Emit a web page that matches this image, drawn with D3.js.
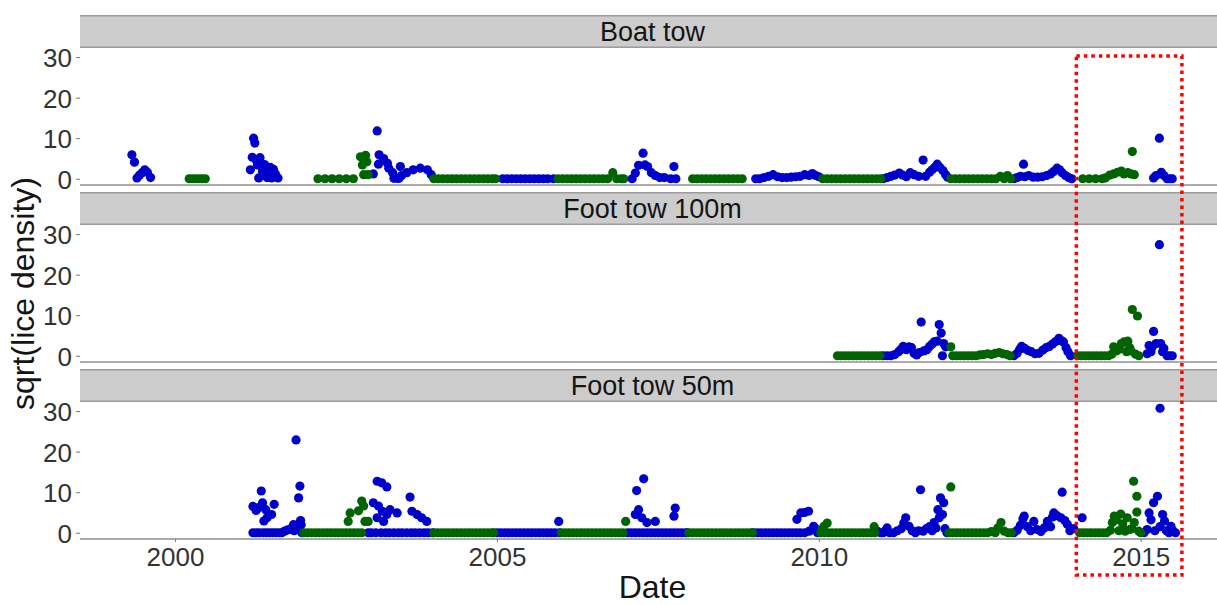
<!DOCTYPE html>
<html>
<head>
<meta charset="utf-8">
<script src="https://cdn.jsdelivr.net/npm/d3@7/dist/d3.min.js"></script>
<style>
  html, body { margin: 0; padding: 0; background: #ffffff; }
  svg { display: block; font-family: "Liberation Sans", Arial, sans-serif; }
</style>
</head>
<body>
<svg id="chart" width="1217" height="605"></svg>
<script>
// ---------------- DATA ----------------
const panelNames = ["Boat tow", "Foot tow 100m", "Foot tow 50m"];
const xTickValues = [2000, 2005, 2010, 2015];
const yTickValues = [0, 10, 20, 30];
const seriesColors = { blue: "#0000cd", green: "#006400" };

// [decimal year, sqrt(lice density)]
const boatBlue = [
  [1999.33,5.9],[1999.37,4.1],[1999.41,0.2],[1999.45,0.9],[1999.49,1.5],[1999.53,2.2],[1999.57,1.6],[1999.62,0.3],
  [2001.17,2.2],[2001.2,5.3],[2001.22,10.0],[2001.24,8.8],[2001.26,4.6],[2001.28,3.4],[2001.3,0.2],[2001.32,5.2],[2001.34,3.1],[2001.36,1.8],[2001.39,3.5],[2001.41,2.5],[2001.43,0.3],[2001.46,1.5],[2001.48,2.8],[2001.5,0.2],[2001.53,2.3],[2001.56,1.2],[2001.6,0.2],
  [2003.08,1.2],[2003.14,11.8],[2003.16,3.6],[2003.17,5.9],[2003.24,5.0],[2003.3,3.8],[2003.32,2.6],[2003.38,1.5],[2003.4,0.1],[2003.45,0.1],[2003.48,0.1],[2003.5,3.0],[2003.52,0.8],[2003.6,1.5],[2003.7,2.2],[2003.81,2.6],[2003.92,2.2],[2003.98,1.0],
  [2005.09,0],[2005.16,0],[2005.23,0],[2005.3,0],[2005.37,0],[2005.44,0],[2005.51,0],[2005.58,0],[2005.65,0],[2005.72,0],[2005.79,0],[2005.88,0],
  [2007.1,0],[2007.15,1.4],[2007.2,3.3],[2007.27,6.3],[2007.3,3.4],[2007.34,3.0],[2007.4,1.5],[2007.46,0.8],[2007.53,0.3],[2007.6,0.3],[2007.7,0],[2007.75,3.0],[2007.78,0],
  [2009.02,0],[2009.08,0],[2009.15,0.3],[2009.22,0.6],[2009.29,1.0],[2009.36,0.5],[2009.43,0.3],[2009.5,0.3],[2009.57,0.4],[2009.64,0.5],[2009.71,0.6],[2009.78,1.0],[2009.85,0.8],[2009.9,1.3],[2009.95,0.8],[2010.0,0.5],
  [2011.0,0],[2011.06,0.3],[2011.12,0.6],[2011.18,0.9],[2011.25,1.4],[2011.3,0.9],[2011.36,0.5],[2011.42,1.5],[2011.48,1.0],[2011.55,0.6],[2011.62,4.6],[2011.66,0.6],[2011.72,1.6],[2011.76,2.2],[2011.8,2.8],[2011.84,3.6],[2011.88,2.8],[2011.93,2.0],[2011.97,1.0],[2012.0,0.4],
  [2013.03,0],[2013.08,0.3],[2013.13,0.6],[2013.18,3.6],[2013.2,0.5],[2013.26,0.8],[2013.33,0.4],[2013.4,0.4],[2013.47,0.5],[2013.54,0.8],[2013.6,1.2],[2013.65,1.8],[2013.7,2.6],[2013.74,2.2],[2013.78,1.5],[2013.83,0.8],[2013.88,0.3],[2013.93,0],
  [2015.2,0.2],[2015.24,0.8],[2015.29,10.0],[2015.32,1.6],[2015.36,0.8],[2015.41,0],[2015.45,0],[2015.49,0]
];
const boatGreen = [
  [2000.22,0],[2000.27,0],[2000.32,0],[2000.37,0],[2000.42,0],[2000.47,0],
  [2002.22,0],[2002.33,0],[2002.44,0],[2002.55,0],[2002.66,0],[2002.77,0],
  [2002.88,5.4],[2002.91,3.4],[2002.93,1.0],[2002.96,5.8],[2002.98,4.2],[2003.0,1.0],
  [2004.02,0],[2004.09,0],[2004.16,0],[2004.23,0],[2004.3,0],[2004.37,0],[2004.44,0],[2004.51,0],[2004.58,0],[2004.65,0],[2004.72,0],[2004.79,0],[2004.86,0],[2004.93,0],[2004.98,0],
  [2005.95,0],[2006.02,0],[2006.09,0],[2006.16,0],[2006.23,0],[2006.3,0],[2006.37,0],[2006.44,0],[2006.51,0],[2006.58,0],[2006.65,0],[2006.72,0],[2006.8,1.5],[2006.86,0],[2006.93,0],[2006.97,0],
  [2008.04,0],[2008.11,0],[2008.18,0],[2008.25,0],[2008.32,0],[2008.39,0],[2008.46,0],[2008.53,0],[2008.6,0],[2008.67,0],[2008.74,0],[2008.81,0],
  [2010.06,0],[2010.13,0],[2010.2,0],[2010.27,0],[2010.34,0],[2010.41,0],[2010.48,0],[2010.55,0],[2010.62,0],[2010.69,0],[2010.76,0],[2010.83,0],[2010.9,0],[2010.96,0],
  [2012.05,0],[2012.12,0],[2012.19,0],[2012.26,0],[2012.33,0],[2012.4,0],[2012.47,0],[2012.54,0],[2012.61,0],[2012.68,0],[2012.75,0],[2012.82,0.6],[2012.88,0],[2012.93,0.8],[2012.98,0],
  [2014.1,0],[2014.2,0],[2014.3,0],[2014.4,0],[2014.45,0.2],[2014.52,0.9],[2014.58,1.2],[2014.64,1.6],[2014.7,1.9],[2014.74,1.2],[2014.8,1.5],[2014.85,1.2],[2014.87,6.7],[2014.9,1.0]
];

const foot100Blue = [
  [2011.0,0],[2011.06,0],[2011.12,0],[2011.18,0.3],[2011.24,1.0],[2011.27,1.5],[2011.31,2.3],[2011.36,1.5],[2011.4,2.2],[2011.44,2.0],[2011.48,0.6],[2011.52,0.2],[2011.56,0.8],[2011.59,8.3],[2011.63,1.2],[2011.68,1.5],[2011.72,2.3],[2011.76,2.9],[2011.8,3.5],[2011.84,3.6],[2011.87,7.7],[2011.9,5.6],[2011.92,0],[2011.94,3.0],[2011.97,2.2],
  [2013.03,0],[2013.08,0.6],[2013.12,1.6],[2013.15,2.3],[2013.2,1.8],[2013.25,1.3],[2013.3,1.0],[2013.36,0.5],[2013.42,0.6],[2013.48,1.4],[2013.53,2.0],[2013.58,2.3],[2013.63,2.9],[2013.68,3.5],[2013.73,4.3],[2013.77,3.7],[2013.8,3.4],[2013.84,2.0],[2013.87,1.0],[2013.91,0],
  [2015.1,0.5],[2015.13,2.5],[2015.16,1.0],[2015.18,2.2],[2015.2,6.0],[2015.24,3.0],[2015.29,27.4],[2015.31,3.0],[2015.34,1.0],[2015.36,1.8],[2015.41,0],[2015.45,0],[2015.49,0]
];
const foot100Green = [
  [2010.29,0],[2010.35,0],[2010.41,0],[2010.47,0],[2010.53,0],[2010.59,0],[2010.65,0],[2010.71,0],[2010.77,0],[2010.83,0],[2010.89,0],[2010.95,0],
  [2012.05,2.2],[2012.08,0],[2012.14,0],[2012.2,0],[2012.26,0],[2012.32,0],[2012.38,0],[2012.44,0],[2012.5,0.2],[2012.56,0.3],[2012.62,0.5],[2012.68,0.3],[2012.74,0.6],[2012.8,0.8],[2012.86,0.5],[2012.92,0.3],[2012.97,0],
  [2014.02,0],[2014.08,0],[2014.14,0],[2014.2,0],[2014.26,0],[2014.32,0],[2014.38,0],[2014.44,0],[2014.5,0],[2014.55,0.4],[2014.58,2.2],[2014.62,1.2],[2014.67,1.6],[2014.7,3.0],[2014.74,3.4],[2014.78,1.0],[2014.8,3.6],[2014.83,2.0],[2014.85,1.2],[2014.87,11.4],[2014.92,0.4],[2014.95,9.8],[2014.97,0]
];

const foot50Blue = [
  [2001.21,6.5],[2001.21,0],[2001.26,5.5],[2001.26,0],[2001.3,6.2],[2001.31,0],[2001.34,10.3],[2001.36,7.4],[2001.37,0],[2001.38,2.9],[2001.41,5.7],[2001.42,0],[2001.43,3.7],[2001.47,0],[2001.5,4.5],[2001.52,0],[2001.54,7.0],[2001.57,0],[2001.62,0],[2001.66,0],[2001.7,0.4],[2001.75,0.7],[2001.8,1.0],[2001.84,2.0],[2001.85,0.5],[2001.88,22.9],[2001.9,1.5],[2001.92,8.6],[2001.94,11.5],[2001.95,3.0],[2001.96,2.0],[2001.97,0],
  [2003.0,0],[2003.05,0],[2003.08,7.4],[2003.12,0],[2003.14,12.7],[2003.14,3.7],[2003.16,6.6],[2003.2,0],[2003.21,12.3],[2003.22,5.3],[2003.24,2.8],[2003.27,0],[2003.29,11.3],[2003.29,4.5],[2003.33,0],[2003.34,5.7],[2003.4,0],[2003.45,4.9],[2003.47,0],[2003.53,0],[2003.6,0],[2003.65,8.8],[2003.67,0],[2003.68,5.3],[2003.73,0],[2003.76,4.5],[2003.8,0],[2003.83,3.7],[2003.87,0],[2003.91,2.8],[2003.93,0],[2004.0,0],
  [2005.0,0],[2005.06,0],[2005.12,0],[2005.18,0],[2005.24,0],[2005.3,0],[2005.36,0],[2005.42,0],[2005.48,0],[2005.54,0],[2005.6,0],[2005.66,0],[2005.72,0],[2005.78,0],[2005.84,0],[2005.9,0],[2005.96,2.8],[2005.97,0],
  [2007.03,0],[2007.09,0],[2007.15,4.5],[2007.15,0],[2007.17,10.4],[2007.2,5.7],[2007.21,0],[2007.25,3.7],[2007.27,0],[2007.28,13.3],[2007.33,2.5],[2007.33,0],[2007.39,0],[2007.45,0],[2007.46,2.8],[2007.51,0],[2007.57,0],[2007.63,0],[2007.69,0],[2007.75,4.1],[2007.75,0],[2007.77,6.1],[2007.81,0],[2007.87,0],[2007.93,0],[2007.96,0],
  [2008.99,0],[2009.05,0],[2009.11,0],[2009.17,0],[2009.23,0],[2009.29,0],[2009.35,0],[2009.41,0],[2009.47,0],[2009.53,0],[2009.59,0],[2009.65,0],[2009.66,3.3],[2009.71,0],[2009.72,4.9],[2009.78,5.0],[2009.78,0],[2009.84,5.3],[2009.85,0.4],[2009.92,1.6],[2009.95,1.0],[2009.98,0],
  [2010.9,0.5],[2010.96,0],[2011.0,0],[2011.04,0.6],[2011.06,1.2],[2011.1,0],[2011.16,0],[2011.22,0.5],[2011.28,1.0],[2011.32,2.4],[2011.35,3.7],[2011.4,1.6],[2011.45,0.5],[2011.5,0],[2011.55,0.5],[2011.58,10.6],[2011.62,0.4],[2011.67,1.0],[2011.72,1.5],[2011.76,0.5],[2011.79,2.5],[2011.82,1.2],[2011.85,5.7],[2011.87,3.7],[2011.89,8.6],[2011.92,4.5],[2011.94,7.4],[2011.96,1.0],[2011.99,0],
  [2013.03,0],[2013.08,0.6],[2013.13,1.8],[2013.17,3.4],[2013.19,4.1],[2013.24,1.5],[2013.29,0.5],[2013.34,2.8],[2013.39,0.8],[2013.45,0.3],[2013.5,1.2],[2013.55,2.8],[2013.6,1.5],[2013.63,3.9],[2013.65,4.9],[2013.7,4.2],[2013.76,3.7],[2013.78,10.0],[2013.82,3.0],[2013.86,2.1],[2013.9,0.5],[2013.96,1.0],[2014.09,3.7],
  [2015.05,0],[2015.1,0.8],[2015.13,4.9],[2015.16,3.2],[2015.2,7.4],[2015.22,0.5],[2015.26,9.0],[2015.3,30.7],[2015.3,1.5],[2015.34,4.5],[2015.37,2.9],[2015.4,0.5],[2015.44,0],[2015.47,1.6],[2015.5,0.5],[2015.54,0]
];
const foot50Green = [
  [2002.0,0],[2002.06,0],[2002.12,0],[2002.18,0],[2002.24,0],[2002.3,0],[2002.36,0],[2002.42,0],[2002.48,0],[2002.54,0],[2002.6,0],[2002.66,0],[2002.72,0],[2002.78,0],[2002.84,0],[2002.9,0],
  [2002.69,2.8],[2002.72,4.9],[2002.85,5.4],[2002.9,7.8],[2002.93,6.6],[2002.95,2.8],[2003.0,2.8],
  [2004.02,0],[2004.08,0],[2004.14,0],[2004.2,0],[2004.26,0],[2004.32,0],[2004.38,0],[2004.44,0],[2004.5,0],[2004.56,0],[2004.62,0],[2004.68,0],[2004.74,0],[2004.8,0],[2004.86,0],[2004.92,0],[2004.95,0],
  [2006.0,0],[2006.06,0],[2006.12,0],[2006.18,0],[2006.24,0],[2006.3,0],[2006.36,0],[2006.42,0],[2006.48,0],[2006.54,0],[2006.6,0],[2006.66,0],[2006.72,0],[2006.78,0],[2006.84,0],[2006.9,0],[2006.96,0],[2007.0,2.8],
  [2007.98,0],[2008.04,0],[2008.1,0],[2008.16,0],[2008.22,0],[2008.28,0],[2008.34,0],[2008.4,0],[2008.46,0],[2008.52,0],[2008.58,0],[2008.64,0],[2008.7,0],[2008.76,0],[2008.82,0],[2008.88,0],[2008.94,0],[2008.97,0],
  [2010.03,0],[2010.05,0.8],[2010.08,1.6],[2010.13,2.4],[2010.09,0],[2010.15,0],[2010.21,0],[2010.27,0],[2010.33,0],[2010.39,0],[2010.45,0],[2010.51,0],[2010.57,0],[2010.63,0],[2010.69,0],[2010.75,0],[2010.81,0],[2010.86,1.5],[2010.87,0],
  [2012.05,11.3],[2012.02,0],[2012.08,0],[2012.14,0],[2012.2,0],[2012.26,0],[2012.32,0],[2012.38,0],[2012.44,0],[2012.5,0],[2012.56,0],[2012.62,0],[2012.68,0.3],[2012.74,0],[2012.78,1.2],[2012.83,2.5],[2012.88,0.4],[2012.94,0],[2012.99,0],
  [2014.05,0],[2014.11,0],[2014.17,0],[2014.23,0],[2014.29,0],[2014.35,0],[2014.41,0],[2014.47,0],[2014.53,0.6],[2014.56,2.5],[2014.59,4.1],[2014.62,3.2],[2014.66,0.5],[2014.69,4.6],[2014.72,2.2],[2014.76,0.4],[2014.79,3.7],[2014.83,0.8],[2014.86,1.0],[2014.89,12.7],[2014.9,2.5],[2014.94,9.0],[2014.94,5.1],[2014.97,0.4],[2015.0,0]
];

const panelSeries = [
  { blue: boatBlue, green: boatGreen },
  { blue: foot100Blue, green: foot100Green },
  { blue: foot50Blue, green: foot50Green }
];

// Highlight box (in data years)
const highlightYears = [2014.0, 2015.64];

// ---------------- LAYOUT ----------------
const W = 1217, H = 605;
const plotLeft = 80, plotRight = 1217;
const firstTop = 15, stripH = 33, plotH = 137, gapH = 7;

const svg = d3.select("#chart");

const x = d3.scaleLinear().domain([1998.524, 2016.185]).range([plotLeft, plotRight]);

panelNames.forEach((name, i) => {
  const stripTop = firstTop + i * (stripH + plotH + gapH);
  const top = stripTop + stripH;
  const bottom = top + plotH;
  const y = d3.scaleLinear().domain([-1.54, 32.24]).range([bottom, top]);

  const g = svg.append("g");

  // strip
  g.append("rect").attr("x", plotLeft).attr("y", stripTop).attr("width", plotRight - plotLeft).attr("height", stripH)
    .attr("fill", "#cccccc");
  g.append("line").attr("x1", plotLeft).attr("x2", plotRight).attr("y1", stripTop + 0.75).attr("y2", stripTop + 0.75)
    .attr("stroke", "#9c9c9c").attr("stroke-width", 1.5);
  g.append("line").attr("x1", plotLeft).attr("x2", plotRight).attr("y1", top - 0.75).attr("y2", top - 0.75)
    .attr("stroke", "#9c9c9c").attr("stroke-width", 1.5);
  g.append("text").attr("x", (plotLeft + plotRight) / 2 + 4).attr("y", stripTop + stripH / 2 + 9.5)
    .attr("text-anchor", "middle").attr("font-size", 27).attr("fill", "#141414").text(name);

  // y axis
  const yAxis = d3.axisLeft(y).tickValues(yTickValues).tickSize(4).tickPadding(4);
  const ya = g.append("g").attr("transform", `translate(${plotLeft},0)`).call(yAxis);
  ya.select(".domain").remove();
  ya.selectAll(".tick line").attr("stroke", "#7a7a7a").attr("stroke-width", 1);
  ya.selectAll(".tick text").attr("font-size", 26).attr("fill", "#333333")
    .attr("font-family", "Liberation Sans, Arial, sans-serif").attr("dy", "0.36em");

  // bottom axis line
  g.append("line").attr("x1", plotLeft).attr("x2", plotRight).attr("y1", bottom).attr("y2", bottom)
    .attr("stroke", "#ababab").attr("stroke-width", 2);

  if (i === panelNames.length - 1) {
    const xAxis = d3.axisBottom(x).tickValues(xTickValues).tickFormat(d3.format("d")).tickSize(3).tickPadding(6);
    const xa = g.append("g").attr("transform", `translate(0,${bottom})`).call(xAxis);
    xa.select(".domain").remove();
    xa.selectAll(".tick line").attr("stroke", "#7a7a7a");
    xa.selectAll(".tick text").attr("font-size", 26).attr("fill", "#333333")
      .attr("font-family", "Liberation Sans, Arial, sans-serif");
  }

  // points
  const s = panelSeries[i];
  ["blue", "green"].forEach(key => {
    g.append("g").selectAll("circle").data(s[key]).join("circle")
      .attr("cx", d => x(d[0])).attr("cy", d => y(d[1])).attr("r", 4.6)
      .attr("fill", seriesColors[key]);
  });
});

// axis titles
svg.append("text").attr("x", (plotLeft + plotRight) / 2 + 4).attr("y", 598)
  .attr("text-anchor", "middle").attr("font-size", 32).attr("fill", "#141414").text("Date");
const lastBottom = firstTop + 3 * (stripH + plotH) + 2 * gapH;
svg.append("text")
  .attr("transform", `translate(34,${(firstTop + stripH + lastBottom) / 2}) rotate(-90)`)
  .attr("text-anchor", "middle").attr("font-size", 32).attr("fill", "#141414").text("sqrt(lice density)");

// red dotted highlight box
svg.append("rect")
  .attr("x", x(highlightYears[0])).attr("y", 56)
  .attr("width", x(highlightYears[1]) - x(highlightYears[0])).attr("height", 519)
  .attr("fill", "none").attr("stroke", "#ff0000").attr("stroke-width", 3.5)
  .attr("stroke-dasharray", "3.5,4");
</script>
</body>
</html>
